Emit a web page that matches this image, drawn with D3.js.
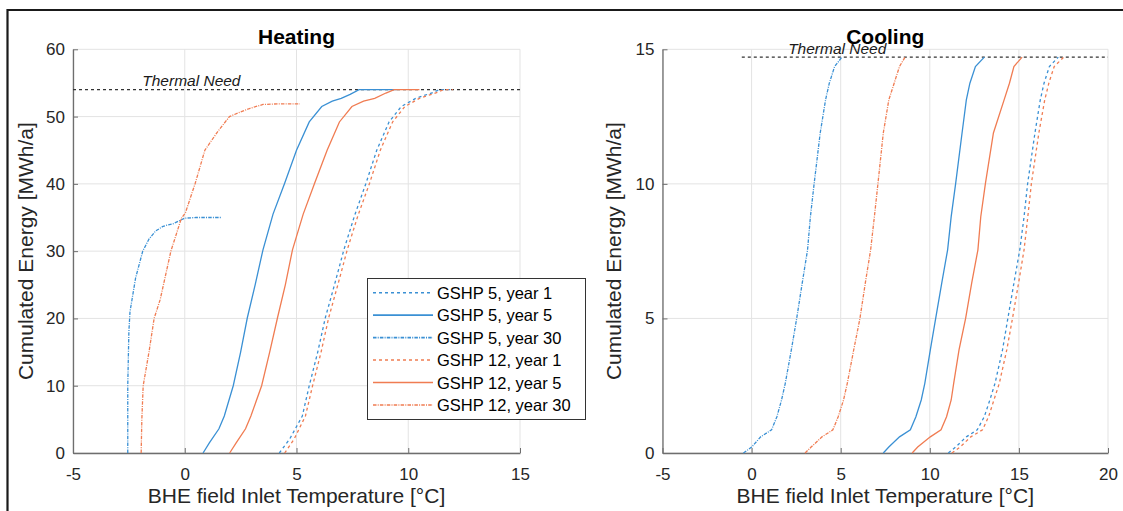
<!DOCTYPE html>
<html>
<head>
<meta charset="utf-8">
<script src="https://cdn.jsdelivr.net/npm/d3@7"></script>
<style>
  body { margin: 0; background: #fff; }
  svg { display: block; font-family: "Liberation Sans", Arial, Helvetica, sans-serif; }
</style>
</head>
<body>
<div id="chart"></div>
<script>
// ---- data ----
const seriesNames = ["GSHP 5, year 1", "GSHP 5, year 5", "GSHP 5, year 30",
                     "GSHP 12, year 1", "GSHP 12, year 5", "GSHP 12, year 30"];

const heatTicksX = [-5, 0, 5, 10, 15];
const heatTicksY = [0, 10, 20, 30, 40, 50, 60];
const coolTicksX = [-5, 0, 5, 10, 15, 20];
const coolTicksY = [0, 5, 10, 15];

const heatNeed = 54;
const coolNeed = 14.71;

// heating: temperature [°C] / cumulated energy [MWh/a]
const heat5y1T  = [4.23, 4.7, 5.26, 5.57, 5.95, 6.29, 6.7, 7.12, 7.6, 8.11, 8.59, 9.14, 9.69, 10.33, 11.12, 11.4, 12.0];
const heat5y1E  = [0, 2.1, 5.5, 10, 15, 20.1, 25, 30.2, 35.3, 40.1, 45, 49.2, 51.5, 52.7, 53.6, 54, 54];
const heat5y5T  = [0.82, 1.1, 1.53, 1.77, 2.17, 2.5, 2.8, 3.15, 3.5, 3.95, 4.47, 5.0, 5.57, 6.13, 6.6, 7.0, 7.4, 7.8, 8.5, 9.5];
const heat5y5E  = [0, 1.5, 3.6, 5.5, 10, 15, 20.1, 25, 30.2, 35.5, 40.1, 45, 49.2, 51.5, 52.3, 52.7, 53.3, 54, 54, 54];
const heat5y30T = [-2.55, -2.55, -2.5, -2.45, -2.36, -2.2, -1.88, -1.6, -1.3, -0.97, -0.5, 0, 0.5, 1.0, 1.65];
const heat5y30E = [0, 10, 18, 21, 22.8, 26, 30, 31.8, 33, 33.7, 34.1, 34.9, 35, 35, 35];
const heat12y1T  = [4.47, 4.9, 5.4, 5.72, 6.1, 6.44, 6.85, 7.27, 7.75, 8.27, 8.75, 9.3, 9.85, 10.5, 11.3, 11.58, 12.0];
const heat12y1E  = [0, 2.1, 5.5, 10, 15, 20.1, 25, 30.2, 35.3, 40.1, 45, 49.2, 51.5, 52.7, 53.6, 54, 54];
const heat12y5T  = [2.01, 2.3, 2.72, 2.96, 3.44, 3.8, 4.15, 4.5, 4.82, 5.3, 5.81, 6.37, 6.92, 7.48, 8.0, 8.5, 9.0, 9.37, 10.5];
const heat12y5E  = [0, 1.5, 3.6, 5.5, 10, 15, 20.1, 25, 30.2, 35.5, 40.1, 45, 49.2, 51.5, 52.3, 52.7, 53.5, 54, 54];
const heat12y30T = [-1.95, -1.92, -1.86, -1.6, -1.37, -1.1, -0.62, -0.15, 0.03, 0.47, 0.9, 1.46, 2.0, 2.5, 2.9, 3.5, 4.2, 5.15];
const heat12y30E = [0, 5, 10, 15, 20, 22.8, 30, 34.9, 35.7, 40.1, 45, 47.7, 50, 50.7, 51.2, 51.8, 51.9, 51.9];

// cooling
const coolE = [0, 0.22, 0.6, 0.86, 1.35, 1.97, 2.59, 3.83, 5.0, 6.31, 7.55, 8.78, 10.01, 11.89, 13.12, 13.74, 14.36, 14.71];
const cool5y1T  = [11.04, 11.45, 12.05, 12.66, 13.06, 13.37, 13.66, 14.08, 14.38, 14.72, 15.05, 15.29, 15.49, 15.9, 16.2, 16.41, 16.71, 17.21];
const cool5y5T  = [7.39, 7.7, 8.3, 8.91, 9.22, 9.52, 9.72, 10.03, 10.33, 10.67, 11.0, 11.2, 11.45, 11.81, 12.05, 12.25, 12.56, 13.06];
const cool5y30T = [-0.46, 0, 0.51, 1.12, 1.42, 1.68, 1.89, 2.23, 2.53, 2.84, 3.14, 3.3, 3.51, 3.85, 4.15, 4.36, 4.66, 5.07];
const cool12y1T  = [11.24, 11.7, 12.3, 12.96, 13.3, 13.6, 13.9, 14.32, 14.64, 14.98, 15.29, 15.5, 15.7, 16.12, 16.45, 16.68, 16.98, 17.52];
const cool12y5T  = [9.01, 9.32, 10.03, 10.63, 10.94, 11.2, 11.34, 11.64, 12.01, 12.35, 12.7, 12.86, 13.12, 13.57, 14.17, 14.47, 14.72, 15.18];
const cool12y30T = [3.0, 3.34, 3.95, 4.56, 4.86, 5.16, 5.37, 5.73, 6.08, 6.38, 6.68, 6.89, 7.09, 7.39, 7.7, 8.0, 8.3, 8.61];

// ---- styles ----
const blue = "#3a90d4", orange = "#f07c52";
const colors = [blue, blue, blue, orange, orange, orange];
const dashes = ["3 3", null, "3.5 1.2 1 1.2", "3 3", null, "3.5 1.2 1 1.2"];

const zip = (t, e) => t.map((v, i) => ({t: v, e: e[i]}));
const heatSeries = [zip(heat5y1T, heat5y1E), zip(heat5y5T, heat5y5E), zip(heat5y30T, heat5y30E),
                    zip(heat12y1T, heat12y1E), zip(heat12y5T, heat12y5E), zip(heat12y30T, heat12y30E)];
const coolSeries = [cool5y1T, cool5y5T, cool5y30T, cool12y1T, cool12y5T, cool12y30T].map(t => zip(t, coolE));

const W = 1123, H = 511;
const svg = d3.select("#chart").append("svg").attr("width", W).attr("height", H);
svg.append("rect").attr("width", W).attr("height", H).attr("fill", "#fff");

// figure frame (top + left visible)
svg.append("path").attr("d", "M7.5," + H + "V10H" + W)
  .attr("fill", "none").attr("stroke", "#1a1a1a").attr("stroke-width", 2.2);

function panel(o) {
  const x = d3.scaleLinear().domain(o.xDomain).range(o.xRange);
  const y = d3.scaleLinear().domain(o.yDomain).range([453, 49.3]);
  const g = svg.append("g");

  // grid
  g.selectAll(".gx").data(o.xTicks).enter().append("line")
    .attr("x1", d => x(d)).attr("x2", d => x(d)).attr("y1", y.range()[0]).attr("y2", y.range()[1])
    .attr("stroke", "#e3e3e3").attr("stroke-width", 1);
  g.selectAll(".gy").data(o.yTicks).enter().append("line")
    .attr("x1", x.range()[0]).attr("x2", x.range()[1]).attr("y1", d => y(d)).attr("y2", d => y(d))
    .attr("stroke", "#e3e3e3").attr("stroke-width", 1);

  // axes
  const ax = g.append("g").attr("transform", "translate(0," + y.range()[0] + ")")
    .call(d3.axisBottom(x).tickValues(o.xTicks).tickFormat(d3.format("d"))
      .tickSizeInner(-5).tickSizeOuter(0).tickPadding(14.5));
  const ay = g.append("g").attr("transform", "translate(" + x.range()[0] + ",0)")
    .call(d3.axisLeft(y).tickValues(o.yTicks).tickFormat(d3.format("d"))
      .tickSizeInner(-5).tickSizeOuter(0).tickPadding(8));
  [ax, ay].forEach(a => {
    a.select(".domain").attr("stroke", "#6e6e6e").attr("stroke-width", 1.3);
    a.selectAll(".tick line").attr("stroke", "#6e6e6e");
    a.selectAll(".tick text").attr("fill", "#262626").style("font-size", "17px")
      .style("font-family", "'Liberation Sans', Arial, sans-serif");
  });
  ax.selectAll(".tick text").text(d => d < 0 ? "-" + Math.abs(d) : d);

  // thermal need
  g.append("line")
    .attr("x1", x(o.needFrom)).attr("x2", x.range()[1])
    .attr("y1", y(o.need)).attr("y2", y(o.need))
    .attr("stroke", "#333").attr("stroke-width", 1.2).attr("stroke-dasharray", "3 3");
  g.append("text").attr("x", x(o.needTextX)).attr("y", o.needTextY)
    .style("font-size", "15.5px").style("font-style", "italic").attr("fill", "#1a1a1a")
    .text("Thermal Need");

  // curves
  const line = d3.line().x(d => x(d.t)).y(d => y(d.e));
  g.selectAll(".curve").data(o.series).enter().append("path")
    .attr("d", line).attr("fill", "none")
    .attr("stroke", (d, i) => colors[i]).attr("stroke-width", 1.3)
    .attr("stroke-dasharray", (d, i) => dashes[i]);

  // title & labels
  const cx = (x.range()[0] + x.range()[1]) / 2;
  g.append("text").attr("x", cx).attr("y", 43.5).attr("text-anchor", "middle")
    .style("font-size", "21px").style("font-weight", "bold").attr("fill", "#000").text(o.title);
  g.append("text").attr("x", cx).attr("y", 503).attr("text-anchor", "middle")
    .style("font-size", "21px").attr("fill", "#262626").text("BHE field Inlet Temperature [°C]");
  g.append("text").attr("transform", "translate(" + o.yLabelX + "," + ((y.range()[0] + y.range()[1]) / 2) + ") rotate(-90)")
    .attr("text-anchor", "middle").style("font-size", "21px").attr("fill", "#262626")
    .text("Cumulated Energy [MWh/a]");
  return {x, y};
}

panel({title: "Heating", xDomain: [-5, 15], xRange: [73, 520], yDomain: [0, 60],
       xTicks: heatTicksX, yTicks: heatTicksY, need: heatNeed, needFrom: -5,
       needTextX: -1.9, needTextY: 86, series: heatSeries, yLabelX: 33});
panel({title: "Cooling", xDomain: [-5, 20], xRange: [662.5, 1108], yDomain: [0, 15],
       xTicks: coolTicksX, yTicks: coolTicksY, need: coolNeed, needFrom: -0.55,
       needTextX: 2.05, needTextY: 53.5, series: coolSeries, yLabelX: 621});

// legend (in heating panel)
const lg = svg.append("g");
lg.append("rect").attr("x", 367.5).attr("y", 278.5).attr("width", 218).attr("height", 141)
  .attr("fill", "#fff").attr("stroke", "#333").attr("stroke-width", 1);
seriesNames.forEach((name, i) => {
  const yy = 292.7 + i * 22.45;
  lg.append("line").attr("x1", 373).attr("x2", 433).attr("y1", yy).attr("y2", yy)
    .attr("stroke", colors[i]).attr("stroke-width", 1.6).attr("stroke-dasharray", dashes[i]);
  lg.append("text").attr("x", 437).attr("y", yy + 6).style("font-size", "16.5px")
    .attr("fill", "#000").text(name);
});
</script>
</body>
</html>
